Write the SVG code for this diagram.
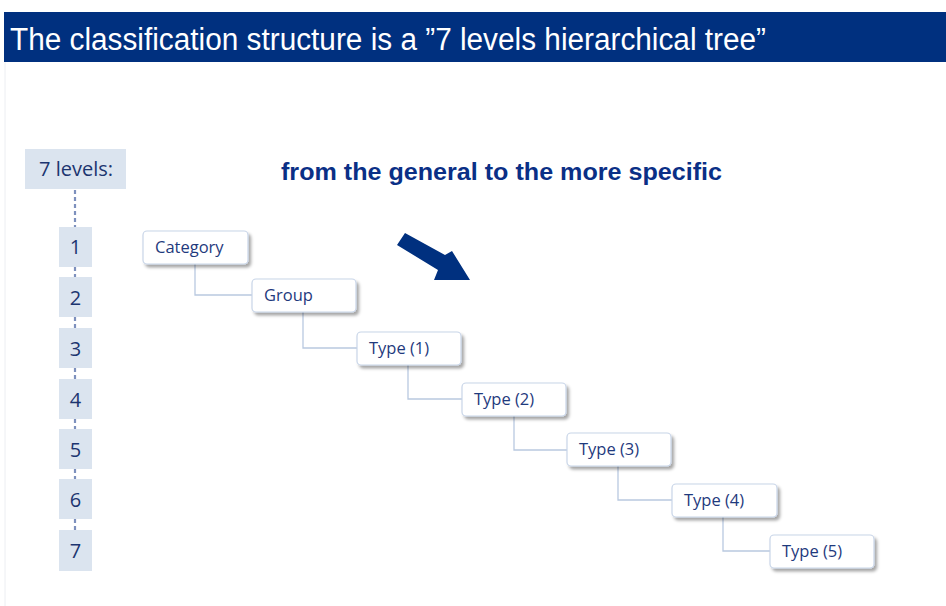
<svg xmlns="http://www.w3.org/2000/svg" width="946" height="606" viewBox="0 0 946 606">
<style>
.title{font-family:"Liberation Sans",Arial,sans-serif;font-size:31px;fill:#ffffff}
.sub{font-family:"Liberation Sans",Arial,sans-serif;font-size:23px;font-weight:bold;fill:#0a2f86}
.lvl{fill:#dbe4ef}
.lvltxt{font-family:"Open Sans","Liberation Sans",sans-serif;font-size:20px;fill:#1c3570;text-anchor:middle}
.node rect{fill:#ffffff;stroke:#c8d5e8;stroke-width:1.2}
.node text{font-family:"Open Sans","Liberation Sans",sans-serif;font-size:16.5px;fill:#1f3a7d}
.conn{fill:none;stroke:#b9c9e0;stroke-width:1.3}
.dash{fill:none;stroke:#7d90bd;stroke-width:2.2;stroke-dasharray:4 3}
</style>
<defs>
<filter id="sh" x="-20%" y="-30%" width="140%" height="170%">
<feDropShadow dx="2.5" dy="3" stdDeviation="1.6" flood-color="#000000" flood-opacity="0.35"/>
</filter>
</defs>
<rect x="0" y="0" width="946" height="606" fill="#ffffff"/>
<line x1="5" y1="62" x2="5" y2="606" stroke="#eceef2" stroke-width="1"/>
<g id="title-bar">
<rect x="4" y="12" width="942" height="50" fill="#00307f"/>
<text class="title" x="10" y="50" textLength="756" lengthAdjust="spacingAndGlyphs">The classification structure is a ”7 levels hierarchical tree”</text>
</g>
<g id="subtitle">
<text class="sub" x="281" y="180" textLength="441" lengthAdjust="spacingAndGlyphs">from the general to the more specific</text>
</g>
<g id="arrow">
<polygon points="405,233 445,255 452,251 470,280 434,280 438,270 397,245" fill="#00307f"/>
</g>
<g id="levels-connectors">
<line class="dash" x1="75" y1="190" x2="75" y2="227"/>
<line class="dash" x1="75" y1="267" x2="75" y2="277"/>
<line class="dash" x1="75" y1="317" x2="75" y2="328"/>
<line class="dash" x1="75" y1="368" x2="75" y2="379"/>
<line class="dash" x1="75" y1="419" x2="75" y2="429"/>
<line class="dash" x1="75" y1="469" x2="75" y2="479"/>
<line class="dash" x1="75" y1="519" x2="75" y2="530"/>
</g>
<g id="levels-header">
<rect class="lvl" x="25" y="149" width="101" height="40"/>
<text class="lvltxt" x="76" y="176">7 levels:</text>
</g>
<g id="level-1"><rect class="lvl" x="59" y="227" width="33" height="40"/><text class="lvltxt" x="75.5" y="254">1</text></g>
<g id="level-2"><rect class="lvl" x="59" y="277" width="33" height="40"/><text class="lvltxt" x="75.5" y="305">2</text></g>
<g id="level-3"><rect class="lvl" x="59" y="328" width="33" height="40"/><text class="lvltxt" x="75.5" y="356">3</text></g>
<g id="level-4"><rect class="lvl" x="59" y="379" width="33" height="40"/><text class="lvltxt" x="75.5" y="407">4</text></g>
<g id="level-5"><rect class="lvl" x="59" y="429" width="33" height="40"/><text class="lvltxt" x="75.5" y="457">5</text></g>
<g id="level-6"><rect class="lvl" x="59" y="479" width="33" height="40"/><text class="lvltxt" x="75.5" y="507">6</text></g>
<g id="level-7"><rect class="lvl" x="59" y="530" width="33" height="41"/><text class="lvltxt" x="75.5" y="558">7</text></g>
<g id="connectors">
<path class="conn" d="M195,264 V295 H252"/>
<path class="conn" d="M303,312 V348 H357"/>
<path class="conn" d="M408,365 V399 H462"/>
<path class="conn" d="M514,416 V450 H567"/>
<path class="conn" d="M618,466 V500 H672"/>
<path class="conn" d="M723,517 V551 H770"/>
</g>
<g id="category" class="node"><rect x="143" y="231" width="105" height="33" rx="4" filter="url(#sh)"/><text x="155" y="253">Category</text></g>
<g id="group" class="node"><rect x="252" y="279" width="104" height="33" rx="4" filter="url(#sh)"/><text x="264" y="301">Group</text></g>
<g id="type1" class="node"><rect x="357" y="332" width="104" height="33" rx="4" filter="url(#sh)"/><text x="369" y="354">Type (1)</text></g>
<g id="type2" class="node"><rect x="462" y="383" width="104" height="33" rx="4" filter="url(#sh)"/><text x="474" y="405">Type (2)</text></g>
<g id="type3" class="node"><rect x="567" y="433" width="104" height="33" rx="4" filter="url(#sh)"/><text x="579" y="455">Type (3)</text></g>
<g id="type4" class="node"><rect x="672" y="484" width="105" height="33" rx="4" filter="url(#sh)"/><text x="684" y="506">Type (4)</text></g>
<g id="type5" class="node"><rect x="770" y="535" width="104" height="33" rx="4" filter="url(#sh)"/><text x="782" y="557">Type (5)</text></g>
</svg>
